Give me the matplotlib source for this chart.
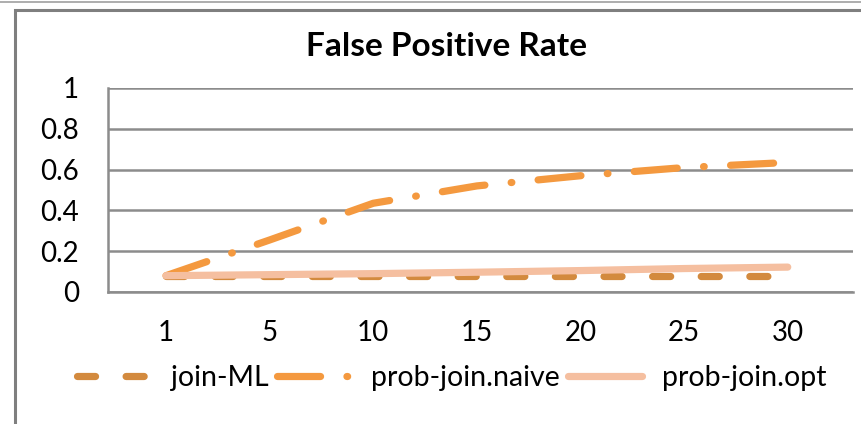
import matplotlib.pyplot as plt
from matplotlib.patches import Rectangle
from matplotlib.lines import Line2D

# data
categories = ["1", "5", "10", "15", "20", "25", "30"]
join_ml = [0.08, 0.08, 0.08, 0.08, 0.08, 0.08, 0.08]
prob_join_naive = [0.08, 0.255, 0.435, 0.52, 0.57, 0.61, 0.635]
prob_join_opt = [0.08, 0.085, 0.09, 0.097, 0.105, 0.115, 0.122]
y_ticks = [0, 0.2, 0.4, 0.6, 0.8, 1]
y_tick_labels = ["0", "0.2", "0.4", "0.6", "0.8", "1"]

plt.rcParams['font.family'] = ['Lato', 'DejaVu Sans']
plt.rcParams['lines.scale_dashes'] = False

c_ml = '#D38A3E'
c_naive = '#F4993F'
c_opt = '#F5BFA0'
grid_c = '#8C8C8C'
ml_dash = (13, 22)
naive_dash = (31, 19, 0.5, 19)

fig = plt.figure(figsize=(8.61, 4.24), dpi=100)

# outer frame of the chart object
fig.add_artist(Line2D([0, 1], [1 - 1.5 / 424, 1 - 1.5 / 424], transform=fig.transFigure,
                      color='#A0A0A0', lw=1.2))
fig.add_artist(Rectangle((15 / 861, -0.05), 1.2, 1 - 10 / 424 + 0.05, transform=fig.transFigure,
                         fill=False, edgecolor='#7F7F7F', lw=2.2))

ax = fig.add_axes([108 / 861, 1 - 292 / 424, (853 - 108) / 861, (292 - 88) / 424])
x = list(range(len(categories)))

ax.plot(x, prob_join_naive, color=c_naive, lw=5.2, dashes=naive_dash,
        dash_capstyle='round', label='prob-join.naive', zorder=3)
ax.plot(x, join_ml, color=c_ml, lw=5.2, dashes=ml_dash,
        dash_capstyle='round', label='join-ML', zorder=3)
ax.plot(x, prob_join_opt, color=c_opt, lw=5.2, solid_capstyle='round',
        label='prob-join.opt', zorder=4)

ax.set_xlim(-0.56, 6.63)
ax.set_ylim(0, 1)
ax.set_xticks(x)
ax.set_xticklabels(categories)
ax.set_yticks(y_ticks)
ax.set_yticklabels(y_tick_labels)
ax.tick_params(axis='both', length=0, labelsize=20, colors='#000000')
ax.tick_params(axis='x', pad=20)
ax.tick_params(axis='y', pad=21)

ax.grid(axis='y', color=grid_c, lw=1.8)
ax.set_axisbelow(True)
for s in ['top', 'right']:
    ax.spines[s].set_visible(False)
for s in ['left', 'bottom']:
    ax.spines[s].set_color(grid_c)
    ax.spines[s].set_linewidth(1.8)

fig.text(447 / 861, 1 - 46 / 424, 'False Positive Rate', ha='center', va='center',
         fontsize=24, fontweight='bold')

handles = [
    Line2D([], [], color=c_ml, lw=5.2, dashes=ml_dash, dash_capstyle='round'),
    Line2D([], [], color=c_naive, lw=5.2, dashes=naive_dash, dash_capstyle='round'),
    Line2D([], [], color=c_opt, lw=5.2, solid_capstyle='round'),
]
fig.legend(handles, ['join-ML', 'prob-join.naive', 'prob-join.opt'],
           loc='center', bbox_to_anchor=(452 / 861, 1 - 378 / 424), ncol=3,
           frameon=False, fontsize=20.5, handlelength=2.6, handletextpad=0.7,
           columnspacing=0.3)

fig.savefig('out.png', dpi=100)
